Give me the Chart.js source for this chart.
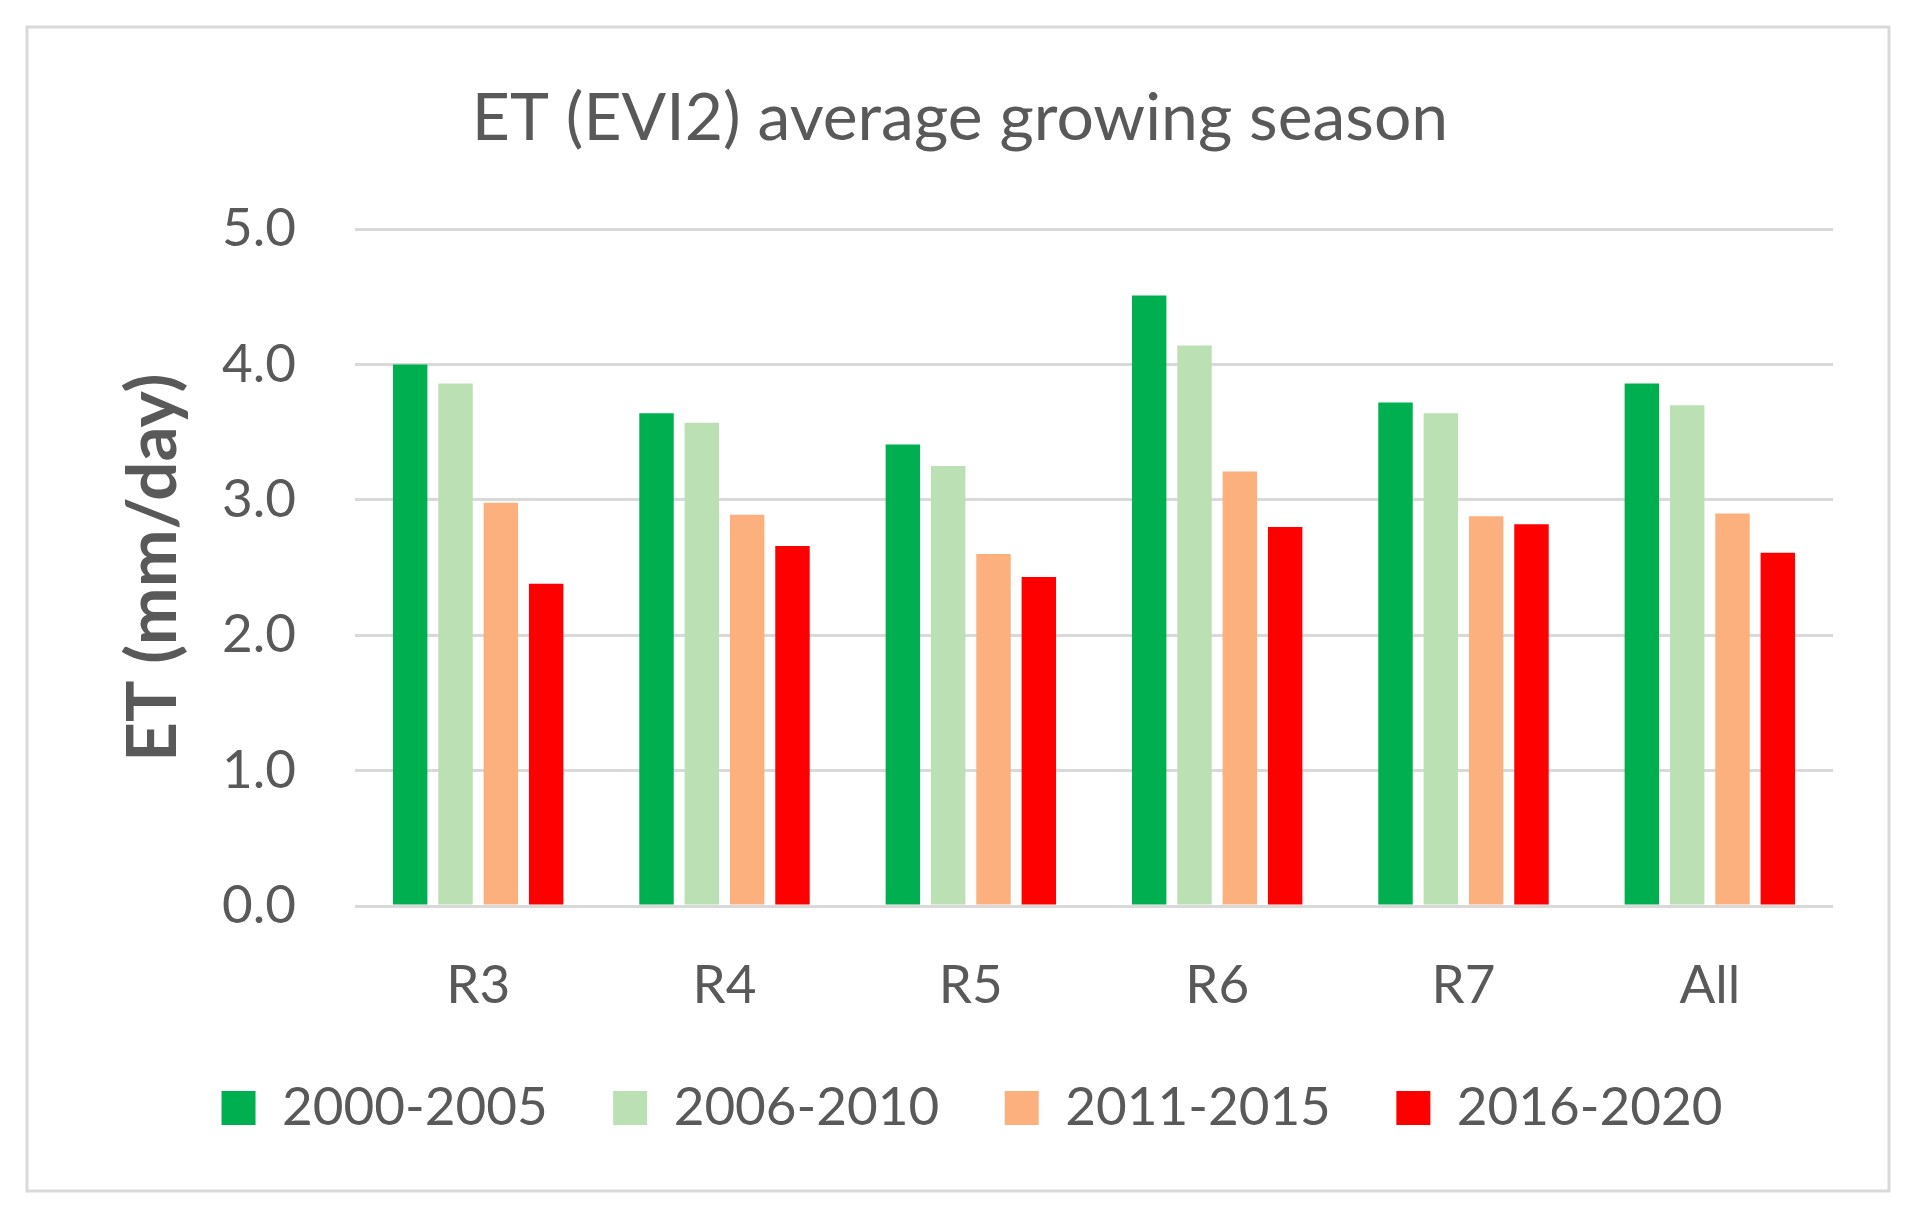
<!DOCTYPE html>
<html>
<head>
<meta charset="utf-8">
<script src="https://cdn.jsdelivr.net/npm/chart.js@4/dist/chart.umd.min.js"></script>
<style>
  html, body { margin: 0; padding: 0; background: #ffffff; }
  #wrap { width: 1920px; height: 1220px; }
</style>
</head>
<body>
<div id="wrap"><canvas id="c" width="1920" height="1220"></canvas></div>
<script>
const categories = ['R3', 'R4', 'R5', 'R6', 'R7', 'All'];
const seriesNames = ['2000-2005', '2006-2010', '2011-2015', '2016-2020'];
const s2000_2005 = [4.00, 3.64, 3.41, 4.51, 3.72, 3.86];
const s2006_2010 = [3.86, 3.57, 3.25, 4.14, 3.64, 3.70];
const s2011_2015 = [2.98, 2.89, 2.60, 3.21, 2.88, 2.90];
const s2016_2020 = [2.38, 2.66, 2.43, 2.80, 2.82, 2.61];
const seriesColors = ['#00B050', '#BBE0B3', '#FCB07E', '#FF0000'];
const yTicks = [0, 1, 2, 3, 4, 5];

const FONT = 'Lato, "Open Sans", sans-serif';
const TXT = '#595959';

const borderPlugin = {
  id: 'outerBorder',
  afterLayout(chart) {
    if (chart.legend) {
      chart.legend.left += 12;
      chart.legend.right += 12;
    }
  },
  beforeDraw(chart) {
    const ctx = chart.ctx;
    ctx.save();
    ctx.fillStyle = '#ffffff';
    ctx.fillRect(0, 0, chart.width, chart.height);
    ctx.strokeStyle = '#d9d9d9';
    ctx.lineWidth = 3;
    ctx.strokeRect(27, 27, 1862, 1164);
    ctx.restore();
  }
};

const allSeries = [s2000_2005, s2006_2010, s2011_2015, s2016_2020];

new Chart(document.getElementById('c'), {
  type: 'bar',
  data: {
    labels: categories,
    datasets: allSeries.map((d, i) => ({
      label: seriesNames[i],
      data: d,
      backgroundColor: seriesColors[i],
      borderWidth: 0,
      categoryPercentage: 0.736,
      barPercentage: 0.76
    }))
  },
  options: {
    responsive: false,
    devicePixelRatio: 1,
    animation: false,
    layout: { padding: { left: 87, right: 87, top: 40, bottom: 75.5 } },
    plugins: {
      title: {
        display: true,
        text: 'ET (EVI2) average growing season',
        color: TXT,
        font: { family: FONT, size: 66, weight: 'normal' },
        padding: { top: 39, bottom: 71 }
      },
      legend: {
        display: true,
        position: 'bottom',
        labels: {
          color: TXT,
          font: { family: FONT, size: 53 },
          boxWidth: 34,
          boxHeight: 34,
          padding: 65.5
        }
      },
      tooltip: { enabled: false }
    },
    scales: {
      x: {
        afterFit(scale) { scale.height = 110; },
        grid: { display: false, drawTicks: false },
        border: { display: false },
        ticks: {
          color: TXT,
          font: { family: FONT, size: 53 },
          padding: 48,
          maxRotation: 0
        }
      },
      y: {
        min: 0,
        max: 5,
        afterBuildTicks(scale) { scale.ticks = yTicks.map(v => ({ value: v })); },
        afterFit(scale) { scale.width = 268; },
        grid: { color: '#d9d9d9', lineWidth: 3, drawTicks: false },
        border: { display: false },
        ticks: {
          color: TXT,
          font: { family: FONT, size: 53 },
          padding: 59,
          callback: v => Number(v).toFixed(1)
        },
        title: {
          display: true,
          text: 'ET (mm/day)',
          color: TXT,
          font: { family: FONT, size: 69, weight: 'bold' },
          padding: { top: 25, bottom: 0 }
        }
      }
    }
  },
  plugins: [borderPlugin]
});
</script>
</body>
</html>
